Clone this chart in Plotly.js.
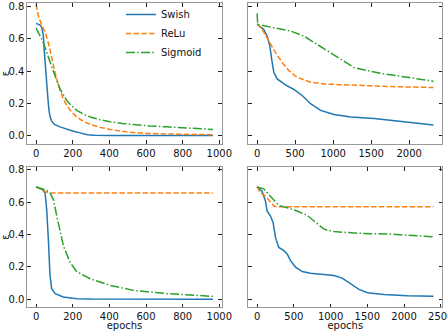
<!DOCTYPE html>
<html>
<head>
<meta charset="utf-8">
<script src="https://cdn.plot.ly/plotly-3.0.1.min.js"></script>
<style>html,body{margin:0;padding:0;background:#fff}</style>
</head>
<body>
<div id="loss-plots" style="width:448px;height:331px"></div>
<script>
// panel 1 (top left)
var tlSwishX = [0, 20, 31, 40, 45, 51, 57, 64, 70, 76, 85, 100, 130, 160, 200, 240, 280, 320, 400, 965];
var tlSwishY = [0.694, 0.685, 0.67, 0.616, 0.52, 0.41, 0.32, 0.24, 0.16, 0.12, 0.09, 0.07, 0.055, 0.043, 0.03, 0.018, 0.007, 0.003, 0.002, 0.001];
var tlReluX = [0, 13, 31, 49, 67, 85, 104, 118, 131, 150, 167, 195, 222, 260, 295, 350, 404, 470, 531, 620, 713, 850, 965];
var tlReluY = [0.81, 0.739, 0.682, 0.642, 0.575, 0.48, 0.39, 0.33, 0.28, 0.225, 0.188, 0.145, 0.116, 0.088, 0.07, 0.052, 0.039, 0.028, 0.02, 0.014, 0.01, 0.008, 0.007];
var tlSigmX = [0, 18, 36, 58, 76, 95, 113, 131, 150, 167, 195, 222, 260, 295, 350, 404, 470, 531, 620, 713, 850, 965];
var tlSigmY = [0.665, 0.627, 0.586, 0.514, 0.455, 0.4, 0.34, 0.29, 0.25, 0.218, 0.184, 0.157, 0.133, 0.116, 0.099, 0.086, 0.076, 0.069, 0.061, 0.055, 0.046, 0.039];

// panel 2 (top right)
var trSwishX = [0, 88, 132, 167, 198, 220, 264, 374, 484, 593, 703, 835, 1011, 1231, 1539, 1758, 2022, 2320];
var trSwishY = [0.688, 0.657, 0.616, 0.555, 0.453, 0.392, 0.351, 0.314, 0.286, 0.249, 0.198, 0.157, 0.131, 0.116, 0.106, 0.096, 0.082, 0.066];
var trReluX = [0, 66, 154, 242, 330, 418, 528, 703, 879, 1319, 1758, 2320];
var trReluY = [0.694, 0.657, 0.586, 0.514, 0.453, 0.402, 0.361, 0.331, 0.32, 0.31, 0.304, 0.298];
var trSigmX = [0, 8, 220, 440, 615, 791, 967, 1099, 1275, 1451, 1670, 1978, 2320];
var trSigmY = [0.755, 0.688, 0.667, 0.647, 0.616, 0.565, 0.514, 0.473, 0.422, 0.402, 0.382, 0.361, 0.337];

// panel 3 (bottom left)
var blSwishX = [0, 31, 49, 58, 67, 76, 85, 104, 149, 222, 300, 965];
var blSwishY = [0.694, 0.682, 0.657, 0.555, 0.371, 0.147, 0.065, 0.035, 0.014, 0.004, 0.001, 0.0];
var blReluX = [0, 40, 58, 76, 965];
var blReluY = [0.694, 0.673, 0.661, 0.657, 0.657];
var blSigmX = [0, 58, 76, 95, 113, 131, 149, 185, 222, 295, 404, 531, 713, 965];
var blSigmY = [0.694, 0.673, 0.657, 0.616, 0.514, 0.412, 0.331, 0.229, 0.171, 0.127, 0.086, 0.055, 0.035, 0.018];

// panel 4 (bottom right)
var brSwishX = [0, 68, 114, 136, 182, 218, 250, 295, 364, 409, 455, 523, 614, 727, 909, 1045, 1159, 1273, 1386, 1500, 1727, 2045, 2400];
var brSwishY = [0.694, 0.667, 0.606, 0.545, 0.514, 0.473, 0.382, 0.32, 0.3, 0.28, 0.239, 0.198, 0.171, 0.161, 0.153, 0.147, 0.131, 0.096, 0.061, 0.041, 0.029, 0.022, 0.018];
var brReluX = [0, 45, 114, 182, 228, 273, 2400];
var brReluY = [0.694, 0.657, 0.637, 0.596, 0.576, 0.571, 0.571];
var brSigmX = [0, 91, 159, 228, 296, 410, 546, 682, 796, 910, 1047, 1365, 1820, 2400];
var brSigmY = [0.694, 0.682, 0.647, 0.616, 0.58, 0.565, 0.545, 0.518, 0.473, 0.433, 0.418, 0.408, 0.402, 0.386];

var names = ['Swish', 'ReLu', 'Sigmoid'];
var colors = ['#1f77b4', '#ff7f0e', '#2ca02c'];
var dashes = ['solid', '5.4px,2.3px', '9px,2.3px,1.5px,2.3px'];

var panels = [
  [[tlSwishX, tlSwishY], [tlReluX, tlReluY], [tlSigmX, tlSigmY]],
  [[trSwishX, trSwishY], [trReluX, trReluY], [trSigmX, trSigmY]],
  [[blSwishX, blSwishY], [blReluX, blReluY], [blSigmX, blSigmY]],
  [[brSwishX, brSwishY], [brReluX, brReluY], [brSigmX, brSigmY]]
];

var data = [];
panels.forEach(function (p, i) {
  var ax = i === 0 ? '' : String(i + 1);
  p.forEach(function (s, j) {
    data.push({
      x: s[0], y: s[1], type: 'scatter', mode: 'lines',
      name: names[j], showlegend: i === 0,
      xaxis: 'x' + ax, yaxis: 'y' + ax,
      line: {color: colors[j], width: 1.5, dash: dashes[j]}
    });
  });
});

var font = {family: 'DejaVu Sans', size: 10, color: '#111'};

function xax(domain, range, dtick, anchor, title) {
  return {
    domain: domain, range: range, dtick: dtick, tick0: 0, anchor: anchor,
    showline: true, linecolor: '#999', linewidth: 1, mirror: 'allticks',
    ticks: 'inside', ticklen: 3.5, tickcolor: '#222', tickwidth: 1,
    showgrid: false, zeroline: false, tickfont: font, ticklabeloverflow: 'allow',
    title: {text: title || '', font: font, standoff: 4}
  };
}
function yax(domain, anchor, labels, title) {
  return {
    domain: domain, range: [-0.049, 0.817], dtick: 0.2, tick0: 0, tickformat: '.1f', anchor: anchor,
    showline: true, linecolor: '#999', linewidth: 1, mirror: 'allticks',
    ticks: 'inside', ticklen: 3.5, tickcolor: '#222', tickwidth: 1,
    showgrid: false, zeroline: false, tickfont: font, showticklabels: labels,
    ticklabeloverflow: 'allow',
    title: {text: title || '', font: font, standoff: 4}
  };
}

var colL = [0.0609, 0.4949], colR = [0.5542, 0.9873];
var rowT = [0.571, 0.9985], rowB = [0.0725, 0.5];

var layout = {
  width: 448, height: 331,
  margin: {l: 0, r: 0, t: 0, b: 0},
  paper_bgcolor: '#fff', plot_bgcolor: '#fff',
  font: font,
  xaxis: xax(colL, [-48, 1013], 200, 'y'),
  yaxis: yax(rowT, 'x', true, 'ε'),
  xaxis2: xax(colR, [-116, 2436], 500, 'y2'),
  yaxis2: yax(rowT, 'x2', false),
  xaxis3: xax(colL, [-48, 1013], 200, 'y3', 'epochs'),
  yaxis3: yax(rowB, 'x3', true, 'ε'),
  xaxis4: xax(colR, [-120, 2520], 500, 'y4', 'epochs'),
  yaxis4: yax(rowB, 'x4', false),
  legend: {
    x: 0.27, y: 1.01, xanchor: 'left', yanchor: 'top',
    bgcolor: 'rgba(255,255,255,0)', font: font, tracegroupgap: 0
  }
};

Plotly.newPlot('loss-plots', data, layout, {displayModeBar: false, staticPlot: true});
</script>
</body>
</html>
